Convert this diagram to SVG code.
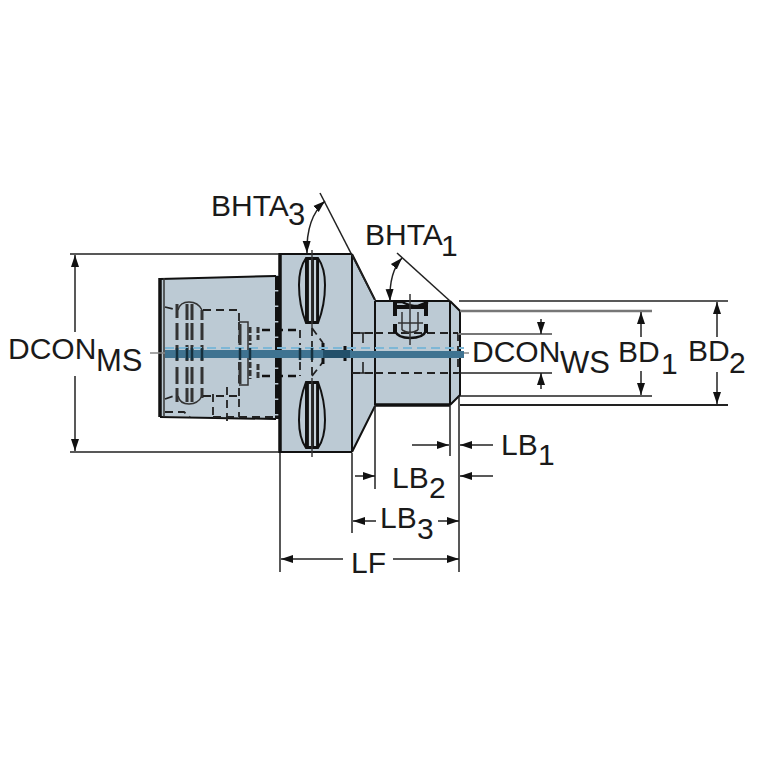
<svg xmlns="http://www.w3.org/2000/svg" width="767" height="767" viewBox="0 0 767 767">
<defs>
<marker id="a" markerUnits="userSpaceOnUse" markerWidth="14" markerHeight="10" refX="12" refY="5" orient="auto-start-reverse"><path d="M0 1 L12 5 L0 9 Z" fill="#111"/></marker>
</defs>
<style>
.b{fill:#bccad4;stroke:none}
.k{fill:none;stroke:#111;stroke-width:2}
.kk{fill:none;stroke:#111;stroke-width:3.5}
.d{fill:none;stroke:#222;stroke-width:1.8;stroke-dasharray:8 5}
.t{fill:none;stroke:#333;stroke-width:1.5}
.dim{fill:none;stroke:#222;stroke-width:1.5}
.g{fill:none;stroke:#777;stroke-width:2.5}
.st{fill:none;stroke:#333;stroke-width:3}
text{font-family:"Liberation Sans",Arial,sans-serif;fill:#1a1a1a;font-size:30px}
.s{font-size:31px}
</style>
<g id="shank">
<path class="b" d="M159 279 L278 275 L278 419 L159 416 Z"/>
<path class="k" d="M160 279 L276 276 M160 417 L276 419"/>
<path class="kk" d="M160 278 V417"/><path class="t" d="M164 278 V417"/>
<path d="M277 276 V419" fill="none" stroke="#111" stroke-width="4" stroke-dasharray="14 1.5"/>
<path class="t" d="M178 310 Q180 302 189 302 Q198 302 202 310 M178 396 Q180 404 189 404 Q198 404 202 396"/>
<path class="st" d="M177 304 V318 M177 323 V340 M177 345 V361 M177 367 V384 M177 388 V402"/>
<path class="st" d="M187 304 V320 M187 323 V340 M187 345 V361 M187 367 V384 M187 388 V402"/>
<path class="st" d="M192 304 V320 M192 323 V340 M192 345 V361 M192 367 V384 M192 388 V402"/>
<path class="st" d="M202 310 V320 M202 323 V340 M202 345 V361 M202 367 V384 M202 388 V398" stroke-width="2.5"/>
<path class="d" d="M165 307 L177 310 M203 310 H239 V322 M165 399 L177 395 M203 396 H239 V417 M165 412 H184 L190 417 M213 417 H277 M239 322 V345 M239 362 V396"/>
<path class="d" d="M213 394 V420 M227 387 V423"/>
<path class="t" d="M239 322 H248 V385 H239"/>
<path class="st" d="M240 324 V345 M240 362 V384"/>
<path class="st" d="M250 327 V345 M250 362 V379 M258 327 V340 M258 364 V378" stroke-dasharray="6 2"/>
</g>
<g id="flange">
<path class="b" d="M279 254 H352 L375 300 V406 L352 452 H279 Z"/>
<path class="kk" d="M280 253 V453"/>
<path class="k" d="M279 254 H352 M279 452 H352 M352 254 V452"/>
<path class="k" d="M352 254 L375 300 M352 452 L375 406"/>
<g id="slots">
<path d="M306 258 H318 Q325 268 325 285 Q325 305 318 323 H306 Q299 305 299 285 Q299 268 306 258 Z" fill="#bccad4" stroke="#111" stroke-width="2"/>
<path d="M306 382 H318 Q325 400 325 420 Q325 438 318 448 H306 Q299 438 299 420 Q299 400 306 382 Z" fill="#bccad4" stroke="#111" stroke-width="2"/>
<path d="M305 258 H319 V323 H305 Z M305 382 H319 V448 H305 Z" fill="#111"/>
<path d="M310 260 V321 M315 260 V321 M310 384 V446 M315 384 V446" stroke="#c6d2da" stroke-width="2.2" fill="none"/>
<path d="M312 250 V328 M312 378 V457" stroke="#333" stroke-width="1.4"/>
</g>
<path d="M262 330 H300 M262 376 H300" fill="none" stroke="#111" stroke-width="2.4" stroke-dasharray="8 5"/>
<path class="d" d="M300 330 V345 M300 362 V376"/>
<path class="d" d="M312 328 L323 343 M312 376 L323 362 M312 328 V376"/>
<path d="M323 343 V364 M345 346 V361" stroke="#111" stroke-width="3"/>
<path class="d" d="M352 333 H375 M352 373 H375"/>
<path d="M363 333 V343 M363 362 V373 M359 333 H367 M359 373 H367" stroke="#222" stroke-width="1.6" fill="none"/>
</g>
<g id="body">
<path class="b" d="M375 301 H450 L460 311 V395 L450 405 H375 Z"/>
<path class="k" d="M375 301 H450 M450 301 L460 311 V395 L450 405"/>
<path class="kk" d="M375 405 H450"/>
<path class="k" d="M375 301 V405 M450 301 V405"/>
<path class="d" d="M375 333 H458 M375 373 H458"/>
<path d="M393 302 H402 Q410 306 418 306 L428 302" fill="none" stroke="#111" stroke-width="2.5"/>
<path d="M395 302 V316 M426 302 V316 M395 307 H426 M395 324 V333 M426 324 V333" stroke="#111" stroke-width="4" fill="none"/>
<path d="M395 331 Q398 338 410 338 Q423 338 426 331" fill="none" stroke="#111" stroke-width="2.5"/>
<path class="t" d="M410 294 V345 M402 312 V330 M418 312 V330 M402 330 Q410 335 418 330 M398 323 H423"/>
<path class="d" d="M458 333 V373"/>
</g>
<g id="axis">
<path d="M165 350 H352 V358 H165 Z" fill="#3f7391"/>
<path d="M352 351 H464 V358 H352 Z" fill="#3f7391"/>
<path d="M165 348 H464" stroke="#7db7d6" stroke-width="2" stroke-dasharray="9 5" fill="none"/>
<path d="M150 353 H165 M464 353 H469" stroke="#888" stroke-width="1.5" fill="none"/>
<path d="M323 350 H350 V358 H323 Z" fill="#23506a"/>
<path d="M177 348 V360 M187 348 V360 M192 348 V360 M202 348 V360 M240 348 V360 M250 348 V360 M300 348 V360 M312 348 V360" stroke="#14303f" stroke-width="2.5"/>
</g>
<g id="connectors">
<path class="dim" d="M70 254 H279 M70 452 H279"/>
<path class="dim" d="M75 255 V332" marker-start="url(#a)"/>
<path class="dim" d="M75 376 V451" marker-end="url(#a)"/>
<path class="dim" d="M320 193 L375 300"/>
<path class="dim" d="M397 253 L450 301"/>
<path class="dim" d="M325 201 Q306 218 307 253" marker-start="url(#a)" marker-end="url(#a)"/>
<path class="dim" d="M402 258 Q389 272 390 301" marker-start="url(#a)" marker-end="url(#a)"/>
<path class="dim" d="M459 301 H728"/><path d="M460 311 H652" class="g"/>
<path class="dim" d="M460 396 H652"/><path d="M460 405 H728" stroke="#222" stroke-width="2" fill="none"/>
<path d="M458 334 H552" fill="none" stroke="#777" stroke-width="2"/>
<path class="dim" d="M458 373 H552"/>
<path class="dim" d="M541 319 V334" marker-end="url(#a)"/>
<path class="dim" d="M541 389 V373" marker-end="url(#a)"/>
<path class="dim" d="M641 312 V337" marker-start="url(#a)"/>
<path class="dim" d="M641 371 V395" marker-end="url(#a)"/>
<path class="dim" d="M717 302 V337" marker-start="url(#a)"/>
<path class="dim" d="M717 372 V404" marker-end="url(#a)"/>
<path class="dim" d="M280 453 V572 M352 453 V533 M375 405 V489 M450 405 V456 M459 396 V572"/>
<path class="dim" d="M412 445 H449" marker-end="url(#a)"/>
<path class="dim" d="M493 445 H460" marker-end="url(#a)"/>
<path class="dim" d="M355 476 H375" marker-end="url(#a)"/>
<path class="dim" d="M493 476 H460" marker-end="url(#a)"/>
<path class="dim" d="M376 521 H353" marker-end="url(#a)"/>
<path class="dim" d="M438 521 H459" marker-end="url(#a)"/>
<path class="dim" d="M343 559 H281" marker-end="url(#a)"/>
<path class="dim" d="M393 559 H459" marker-end="url(#a)"/>
</g>
<g id="labels">
<text x="211" y="216">BHTA</text><text x="288" y="225" class="s">3</text>
<text x="365" y="245">BHTA</text><text x="441" y="256">1</text>
<text x="8" y="359">DCON</text><text x="96" y="371" class="s">MS</text>
<text x="472" y="362">DCON</text><text x="560" y="373" class="s">WS</text>
<text x="618" y="362">BD</text><text x="661" y="374">1</text>
<text x="688" y="361">BD</text><text x="729" y="373">2</text>
<text x="501" y="455">LB</text><text x="538" y="465">1</text>
<text x="392" y="488">LB</text><text x="429" y="498">2</text>
<text x="380" y="528">LB</text><text x="417" y="539">3</text>
<text x="351" y="573">LF</text>
</g>
</svg>
